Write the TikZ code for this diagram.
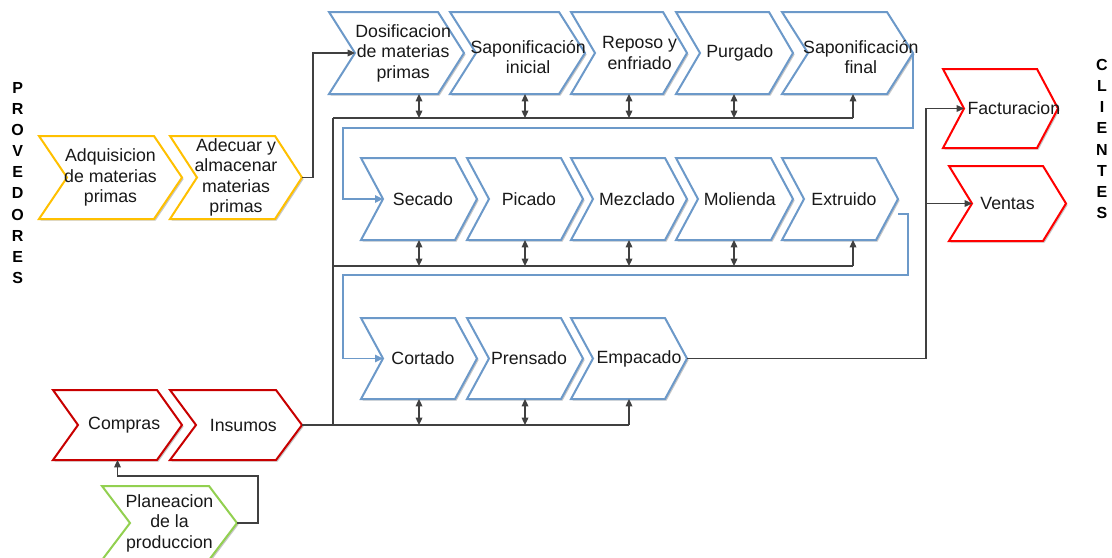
\documentclass[tikz,border=0pt]{standalone}
\usepackage{fontspec}
\setmainfont{Liberation Sans}
\usetikzlibrary{arrows.meta,shadows}

\definecolor{chevblue}{RGB}{108,153,201}
\definecolor{chevgold}{RGB}{255,192,0}
\definecolor{chevred}{RGB}{200,0,0}
\definecolor{chevbright}{RGB}{255,0,0}
\definecolor{chevgreen}{RGB}{146,208,80}
\definecolor{linkgrey}{RGB}{64,64,64}

\tikzset{
  chevshape/.style={line width=1.5pt, fill=white, line join=miter,
    drop shadow={shadow xshift=1.2pt, shadow yshift=-1.2pt, opacity=0.22, fill=black}},
  chevtext/.style={align=center, inner sep=0pt,
    font=\fontsize{13.3}{15.4}\selectfont, text=black!90},
  link/.style={draw=linkgrey, line width=0.9pt},
  linkarrow/.style={link, -{Triangle[length=5.5pt,width=5pt]}},
  twoway/.style={link, {Triangle[length=5.5pt,width=5pt]}-{Triangle[length=5.5pt,width=5pt]}},
  loopback/.style={draw=chevblue, line width=1.3pt, -{Triangle[length=6pt,width=5.5pt]}},
  sideword/.style={align=center, inner sep=0pt,
    font=\fontsize{12}{15.8}\selectfont\bfseries},
}

% \drawchevron[text options]{name}{left x}{top y}{width}{height}{tip depth}{colour}{text}
\newcommand{\drawchevron}[9][]{%
  \draw[chevshape, draw=#8] (#3,#4) -- ++({#5-#7},0) -- ++(#7,{#6/2})
    -- ++(-#7,{#6/2}) -- ++({-(#5-#7)},0) -- ++(#7,{-#6/2}) -- cycle;
  \coordinate (#2-n) at ({#3+#7},{#4+#6/2});
  \coordinate (#2-p) at ({#3+#5},{#4+#6/2});
  \coordinate (#2-m) at ({#3+#5/2},{#4+#6/2});
  \coordinate (#2-b) at ({#3},{#4+#6});
  \node[chevtext,#1] (#2) at ({#3+#5/2},{#4+#6/2}) {#9};
}

\begin{document}
\begin{tikzpicture}[x=0.75pt,y=-0.75pt]
\useasboundingbox (0,0) rectangle (1112,557);

% side labels
\node[sideword] (prov) at (17.7,183) {P\\R\\O\\V\\E\\D\\O\\R\\E\\S};
\node[sideword] (clie) at (1102,139) {C\\L\\I\\E\\N\\T\\E\\S};

% suppliers side
\drawchevron{adqu}{39}{136}{143}{83}{28}{chevgold}{Adquisicion\\de materias\\primas}
\drawchevron{adec}{170}{136}{132}{83}{27}{chevgold}{Adecuar y\\almacenar\\materias\\primas}
\drawchevron[xshift=5pt]{comp}{53}{390}{129}{70}{25}{chevred}{Compras}
\drawchevron[xshift=5.5pt]{insu}{170}{390}{132}{70}{26}{chevred}{Insumos}
\drawchevron{plan}{102}{486}{135}{74}{28}{chevgreen}{Planeacion\\de la\\produccion}

% first process row
\drawchevron[xshift=5pt]{dosi}{329}{12}{135}{82}{26}{chevblue}{Dosificacion\\de materias\\primas}
\drawchevron[xshift=8pt,yshift=-3pt]{sapi}{450}{12}{135}{82}{26}{chevblue}{Saponificación\\inicial}
\drawchevron[xshift=8pt]{repo}{571}{12}{116}{82}{24}{chevblue}{Reposo y\\enfriado}
\drawchevron[xshift=4pt]{purg}{676}{12}{117}{82}{24}{chevblue}{Purgado}
\drawchevron[xshift=10pt,yshift=-3pt]{sapf}{782}{12}{131}{82}{26}{chevblue}{Saponificación\\final}

% second process row
\drawchevron[xshift=3pt]{seca}{361}{158}{116}{82}{22}{chevblue}{Secado}
\drawchevron[xshift=3pt]{pica}{467}{158}{116}{82}{22}{chevblue}{Picado}
\drawchevron[xshift=6pt]{mezc}{571}{158}{116}{82}{22}{chevblue}{Mezclado}
\drawchevron[xshift=4pt]{moli}{676}{158}{117}{82}{22}{chevblue}{Molienda}
\drawchevron[xshift=3pt]{extr}{782}{158}{116}{82}{22}{chevblue}{Extruido}

% third process row
\drawchevron[xshift=3pt]{cort}{361}{318}{116}{81}{22}{chevblue}{Cortado}
\drawchevron[xshift=3pt]{pren}{467}{318}{116}{81}{22}{chevblue}{Prensado}
\drawchevron[xshift=7.5pt]{empa}{571}{318}{116}{81}{22}{chevblue}{Empacado}

% customers side
\drawchevron[xshift=10pt]{fact}{943}{69}{115}{79}{21}{chevbright}{Facturacion}
\drawchevron{vent}{949}{166}{117}{75}{23}{chevbright}{Ventas}

% reference columns and buses
\coordinate (c1) at (419,0);
\coordinate (c2) at (525,0);
\coordinate (c3) at (629,0);
\coordinate (c4) at (734,0);
\coordinate (c5) at (853,0);
\coordinate (bus1) at (333,118);
\coordinate (bus2) at (333,266);
\coordinate (loopx) at (343,0);
\coordinate (outx) at (926,0);

% supply buses
\draw[link] (insu-p) -- (c3 |- insu-p);
\draw[link] (bus1) -- (bus1 |- insu-p);
\draw[link] (bus1) -- (c5 |- bus1);
\draw[link] (bus2) -- (c5 |- bus2);

\foreach \c/\n in {c1/dosi, c2/sapi, c3/repo, c4/purg}
  \draw[twoway] (\c |- bus1) -- (\c |- \n-b);
\draw[linkarrow] (c5 |- bus1) -- (c5 |- sapf-b);

\foreach \c/\n in {c1/seca, c2/pica, c3/mezc, c4/moli}
  \draw[twoway] (\c |- bus2) -- (\c |- \n-b);
\draw[linkarrow] (c5 |- bus2) -- (c5 |- extr-b);

\foreach \c/\n in {c1/cort, c2/pren}
  \draw[twoway] (\c |- insu-p) -- (\c |- \n-b);
\draw[linkarrow] (c3 |- insu-p) -- (c3 |- empa-b);

% raw material into dosing
\draw[linkarrow] (adec-p) -- ++(11,0) |- (dosi-n);

% planning feeds purchasing
\draw[linkarrow] (plan-p) -- ++(21,0) -- ++(0,-47) -| (comp-m |- comp-b);

% row-to-row flow
\draw[loopback] (sapf-p) -- ++(0,75) -| (loopx |- seca-n) -- (seca-n);
\draw[loopback] (extr-p) ++(0,15) -- ++(10,0) -- ++(0,61) -| (loopx |- cort-n) -- (cort-n);

% packed product to customers
\draw[linkarrow] (empa-p) -| (outx |- fact-n) -- (fact-n);
\draw[linkarrow] (outx |- vent-n) -- (vent-n);

\end{tikzpicture}
\end{document}
